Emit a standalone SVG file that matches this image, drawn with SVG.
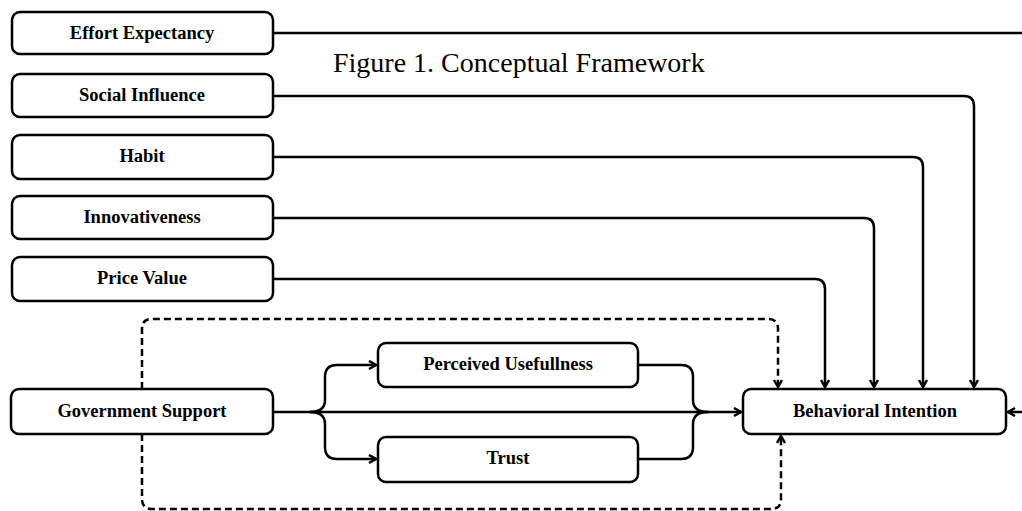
<svg xmlns="http://www.w3.org/2000/svg" width="1022" height="511" viewBox="0 0 1022 511">
<style>
.box{fill:#fff;stroke:#000;stroke-width:2.5}
.lbl{font-family:"Liberation Serif","Times New Roman",serif;font-weight:bold;font-size:18.5px;fill:#000;text-anchor:middle}
.ttl{font-family:"Liberation Serif","Times New Roman",serif;font-size:28px;fill:#000}
.ln{fill:none;stroke:#000;stroke-width:2.5}
.dash{fill:none;stroke:#000;stroke-width:2.5;stroke-dasharray:7 4}
</style>
<defs>
<marker id="arr" markerUnits="userSpaceOnUse" markerWidth="12" markerHeight="12" refX="8" refY="5" orient="auto">
<path d="M1,1 L8,5 L1,9" fill="none" stroke="#000" stroke-width="2.5"/>
</marker>
</defs>
<rect width="1022" height="511" fill="#fff"/>
<text class="ttl" x="333" y="72">Figure 1. Conceptual Framework</text>
<g id="connectors">
<path class="ln" d="M273,33 H1030 V412 H1008" marker-end="url(#arr)"/>
<path class="ln" d="M273,96 H964 Q974,96 974,106 V387" marker-end="url(#arr)"/>
<path class="ln" d="M273,157 H913 Q923,157 923,167 V387" marker-end="url(#arr)"/>
<path class="ln" d="M273,218 H864 Q874,218 874,228 V387" marker-end="url(#arr)"/>
<path class="ln" d="M273,279 H815 Q825,279 825,289 V387" marker-end="url(#arr)"/>
<path class="ln" d="M273,412 H741" marker-end="url(#arr)"/>
<path class="ln" d="M310,412 Q325,412 325,400 V377 Q325,365 337,365 H376" marker-end="url(#arr)"/>
<path class="ln" d="M310,412 Q325,412 325,424 V447 Q325,459 337,459 H376" marker-end="url(#arr)"/>
<path class="ln" d="M638,365 H681 Q693,365 693,377 V400 Q693,412 708,412"/>
<path class="ln" d="M638,459 H681 Q693,459 693,447 V424 Q693,412 708,412"/>
<path class="dash" d="M142,389 V329 Q142,319 152,319 H768 Q778,319 778,329 V387" marker-end="url(#arr)"/>
<path class="dash" d="M142,434 V499 Q142,509 152,509 H771 Q781,509 781,499 V436" marker-end="url(#arr)"/>
</g>
<g id="effort-expectancy"><rect class="box" x="12" y="12" width="261" height="42" rx="8"/><text class="lbl" x="142" y="39">Effort Expectancy</text></g>
<g id="social-influence"><rect class="box" x="12" y="74" width="261" height="43" rx="8"/><text class="lbl" x="142" y="101">Social Influence</text></g>
<g id="habit"><rect class="box" x="12" y="135" width="261" height="44" rx="8"/><text class="lbl" x="142" y="162">Habit</text></g>
<g id="innovativeness"><rect class="box" x="12" y="196" width="261" height="43" rx="8"/><text class="lbl" x="142" y="223">Innovativeness</text></g>
<g id="price-value"><rect class="box" x="12" y="257" width="261" height="44" rx="8"/><text class="lbl" x="142" y="284">Price Value</text></g>
<g id="government-support"><rect class="box" x="11" y="389" width="262" height="45" rx="8"/><text class="lbl" x="142" y="417">Government Support</text></g>
<g id="perceived-usefullness"><rect class="box" x="378" y="343" width="260" height="44" rx="8"/><text class="lbl" x="508" y="370">Perceived Usefullness</text></g>
<g id="trust"><rect class="box" x="378" y="437" width="260" height="45" rx="8"/><text class="lbl" x="508" y="464">Trust</text></g>
<g id="behavioral-intention"><rect class="box" x="743" y="389" width="263" height="45" rx="8"/><text class="lbl" x="875" y="417">Behavioral Intention</text></g>
</svg>
